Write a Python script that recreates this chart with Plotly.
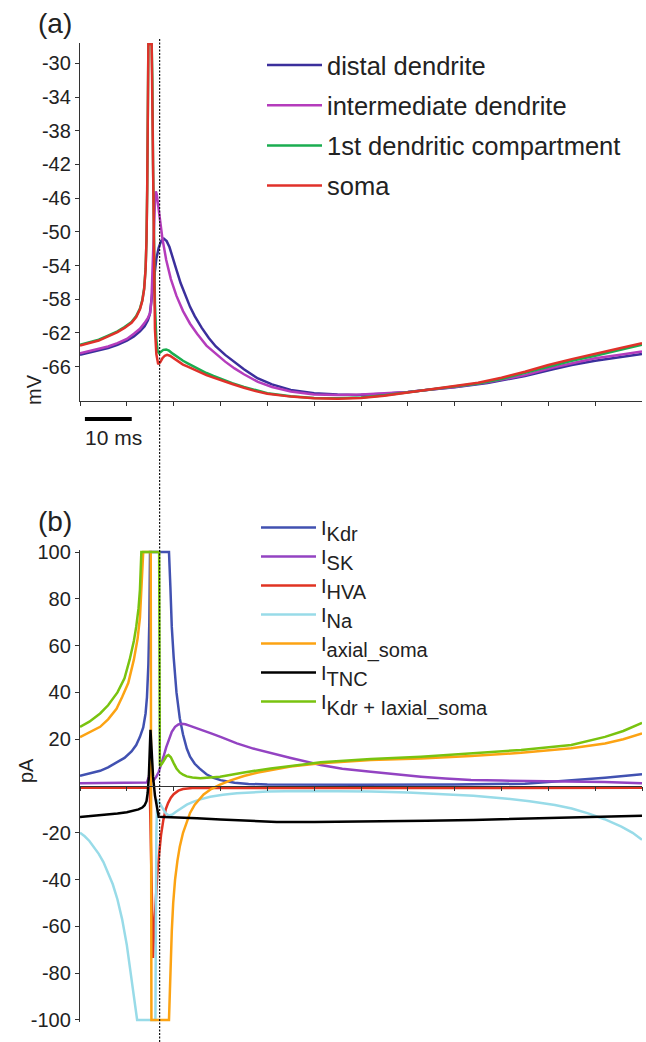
import plotly.graph_objects as go

# ---------------- Panel (a): membrane potential (mV) vs time (ms) ----------------
t_dist = [0, 2, 4, 6, 8, 10, 11.5, 12.8, 13.8, 14.5, 14.9, 15.2, 15.5, 15.9, 16.3, 16.8, 17.3, 17.9, 18.5, 19.1, 19.7, 20.6, 21.5, 22.5, 23.5, 24.5, 26, 27.5, 29, 31, 33, 35, 38, 41, 45, 50, 55, 59, 65, 70, 75, 80, 87, 95, 101, 105, 110, 115, 120]
v_dist = [-64.6, -64.35, -64.1, -63.8, -63.4, -62.9, -62.4, -61.8, -61.2, -60.5, -59.8, -58.3, -56.5, -54.6, -53.2, -51.9, -51.1, -50.8, -51.1, -51.8, -52.8, -54.5, -56.1, -57.6, -58.9, -60.0, -61.4, -62.6, -63.6, -64.6, -65.5, -66.3, -67.4, -68.1, -68.75, -69.15, -69.3, -69.35, -69.2, -69.0, -68.7, -68.45, -67.95, -67.1, -66.3, -65.8, -65.3, -64.9, -64.5]

t_int = [0, 2, 4, 6, 8, 10, 11.5, 12.8, 13.8, 14.5, 15.0, 15.25, 15.45, 15.65, 15.85, 16.05, 16.2, 16.4, 16.7, 17.0, 17.6, 18.4, 19.4, 20.6, 22, 23.5, 25, 27, 29, 31, 33, 35, 38, 41, 45, 50, 55, 60, 65, 70, 75, 80, 87, 95, 101, 105, 110, 115, 120]
v_int = [-64.4, -64.15, -63.9, -63.6, -63.2, -62.7, -62.1, -61.5, -60.8, -60.2, -59.6, -58.2, -55, -51, -47.8, -45.8, -45.2, -45.6, -46.9, -48.4, -50.8, -53.3, -55.6, -57.6, -59.4, -60.9, -62.1, -63.5, -64.5, -65.4, -66.2, -66.9, -67.8, -68.4, -68.95, -69.3, -69.35, -69.3, -69.15, -69.0, -68.7, -68.4, -67.85, -67.0, -66.1, -65.6, -65.0, -64.6, -64.2]

t_d1 = [0, 2, 4, 6, 8, 9.5, 11, 12, 12.8, 13.3, 13.7, 14.0, 14.2, 14.35, 14.5, 14.6, 15.3, 15.45, 15.6, 15.8, 16.0, 16.3, 16.6, 16.9, 17.3, 17.8, 18.4, 19.0, 19.8, 21, 22, 23, 24, 25.5, 27, 28.5, 30, 32.5, 35, 37.5, 40, 45, 50, 55, 60, 65, 70, 75, 80, 85, 90, 95, 100, 105, 110, 115, 120]
v_d1 = [-63.4, -63.1, -62.8, -62.3, -61.8, -61.3, -60.7, -60.0, -59.1, -58.1, -56.7, -54.4, -51, -45, -33, -27.7, -27.7, -32, -42, -52, -58.5, -62.8, -64.2, -64.4, -64.2, -64.0, -63.95, -64.1, -64.45, -64.95, -65.3, -65.6, -65.9, -66.35, -66.75, -67.1, -67.45, -67.95, -68.4, -68.8, -69.15, -69.5, -69.7, -69.75, -69.65, -69.4, -69.05, -68.75, -68.4, -68.0, -67.45, -66.75, -66.0, -65.3, -64.7, -64.05, -63.4]

t_soma = [0, 2, 4, 6, 8, 9.5, 11, 12, 12.8, 13.3, 13.7, 14.0, 14.2, 14.35, 14.5, 14.6, 15.3, 15.45, 15.6, 15.8, 16.0, 16.3, 16.7, 17.1, 17.6, 18.1, 18.6, 19.2, 20, 21, 22, 23, 24, 25.5, 27, 28.5, 30, 32.5, 35, 37.5, 40, 45, 50, 55, 60, 65, 70, 75, 80, 85, 90, 95, 100, 105, 110, 115, 120]
v_soma = [-63.5, -63.2, -62.9, -62.4, -61.9, -61.4, -60.8, -60.1, -59.2, -58.2, -56.8, -54.5, -51, -45, -33, -27.7, -27.7, -35, -46, -56, -61.5, -64.5, -65.7, -65.5, -65.0, -64.7, -64.6, -64.7, -65.0, -65.4, -65.75, -66.0, -66.25, -66.65, -67.0, -67.3, -67.6, -68.05, -68.5, -68.9, -69.2, -69.55, -69.75, -69.8, -69.7, -69.45, -69.05, -68.7, -68.3, -67.9, -67.3, -66.6, -65.8, -65.1, -64.5, -63.85, -63.2]

names_a = ["distal dendrite", "intermediate dendrite", "1st dendritic compartment", "soma"]
colors_a = ["#3b2f9c", "#b53cbc", "#1aad50", "#e0312a"]

# ---------------- Panel (b): currents (pA) vs time (ms) ----------------
t_kdr = [0, 2, 4.3, 6, 7.8, 9.5, 11, 12, 12.8, 13.5, 14.0, 14.3, 14.6, 14.8, 14.95, 19.0, 19.3, 19.6, 20.0, 20.6, 21.3, 22.0, 22.8, 23.5, 24.5, 25.5, 27, 28.5, 30, 33, 36, 40, 60, 80, 95, 101.4, 107, 112.1, 120]
v_kdr = [4.4, 5.3, 6.5, 8, 10, 12, 14.8, 17.5, 21, 25, 31, 38, 52, 70, 100, 100, 85, 68, 55, 40, 29, 22, 16, 12.5, 9.5, 7.5, 5, 3.5, 2.5, 1.4, 0.9, 0.6, 0.5, 0.6, 1.0, 1.9, 2.8, 3.5, 5]

t_sk = [0, 10, 14.3, 14.55, 14.75, 14.95, 15.3, 15.8, 16.3, 16.8, 17.3, 17.8, 18.4, 19.0, 19.6, 20.3, 21.0, 21.7, 22.5, 23.5, 24.5, 26.4, 28, 30, 33.5, 37, 40.7, 45, 51.4, 56, 62.1, 67, 72.8, 78, 83.5, 90, 97.8, 104.9, 112, 120]
v_sk = [1.2, 1.3, 1.5, 3, 4.4, 3, 2, 2.6, 4, 6, 8.8, 12.3, 16.5, 20.2, 23.2, 25.3, 26.3, 26.6, 26.4, 25.7, 25, 23.9, 22.5, 21, 18.2, 16, 14, 12, 9.0, 7.4, 6.1, 5, 4.0, 3.2, 2.6, 2.3, 2.1, 2.1, 1.7, 1.2]

t_hva = [0, 14.6, 14.9, 15.2, 15.6, 15.8, 16.1, 16.5, 16.9, 17.3, 17.8, 18.3, 18.8, 19.4, 20, 21, 22, 24, 120]
v_hva = [-0.8, -0.8, -1.5, -40, -73.5, -62, -50, -38, -29, -21, -14.5, -10, -7.3, -5, -3.5, -2, -1.3, -0.9, -0.8]

t_na = [0, 1, 2, 3, 4, 5, 6, 7, 8, 9, 10, 11, 11.7, 12.2, 16.1, 16.3, 16.5, 16.8, 17.2, 17.7, 18.3, 19.0, 19.7, 20.5, 21.5, 22.8, 24, 25.5, 27.8, 30.5, 33.5, 37, 40, 47.9, 55, 62.1, 70, 76.4, 84, 90.7, 96, 101.4, 105, 108.5, 112, 115.6, 118, 120]
v_na = [-20, -21.5, -23.5, -26, -29, -32.5, -37, -42, -48.5, -57, -68, -82, -93, -100, -100, -20, -6, -6.5, -8, -10, -11.7, -12.6, -12.2, -11, -9.6, -8.0, -6.9, -5.8, -4.6, -3.7, -3.1, -2.7, -2.4, -2.1, -2.2, -2.4, -2.8, -3.4, -4.2, -5.3, -6.5, -8.1, -9.6, -11.7, -14.2, -17.4, -20, -23]

t_ax = [0, 2, 4.3, 6, 7.8, 9, 10.3, 11.5, 12.3, 12.8, 13.2, 13.5, 15.1, 15.25, 19.0, 19.3, 19.6, 19.9, 20.3, 20.8, 21.3, 22.0, 22.7, 23.5, 24.5, 25.5, 26.4, 28, 29.9, 32, 35, 38, 40.7, 45, 51.4, 62.1, 72.8, 83.5, 94.2, 104.9, 112.1, 116, 120]
v_ax = [20.9, 22.8, 25.3, 28.5, 33, 38, 44, 54, 63, 72, 85, 100, 100, -100, -100, -78, -62, -50, -40, -32, -26, -20, -15.6, -11.5, -8, -5.5, -3.6, -1.3, 0.6, 2.3, 4.3, 5.8, 6.8, 8.3, 9.7, 11.1, 11.8, 12.8, 14.2, 16.1, 18.2, 20, 22.5]

t_tnc = [0, 4, 8, 10, 11.5, 12.5, 13.3, 13.8, 14.2, 14.45, 14.7, 14.9, 15.05, 15.3, 15.6, 16.0, 16.4, 16.8, 18, 20, 25, 30, 36, 42, 50, 62, 74, 84, 98, 110, 120]
v_tnc = [-13.2, -12.6, -11.8, -11.2, -10.6, -10.0, -9.2, -8.2, -6.5, -3, 4, 14, 24, 15, 4, -4, -9, -13.2, -13.3, -13.4, -13.8, -14.3, -15.0, -15.4, -15.4, -15.2, -14.9, -14.5, -13.8, -13.2, -12.7]

t_sum = [0, 2, 4.3, 6, 8, 9.5, 10.6, 11.5, 12.0, 12.5, 12.8, 13.0, 13.1, 16.9, 17.05, 17.5, 18.0, 18.5, 18.9, 19.4, 20.0, 20.6, 21.3, 22.0, 22.8, 24, 25.7, 27.5, 29.9, 35, 40.7, 51.4, 62.1, 72.8, 83.5, 94.2, 104.9, 112.1, 116, 120]
v_sum = [25.3, 27.5, 31, 34.5, 40, 46, 54, 62, 68, 76, 84, 92, 100, 100, 8.5, 9.5, 11.5, 12.8, 13.2, 12.3, 9.8, 7.5, 5.8, 4.8, 4.1, 3.6, 3.3, 3.5, 4.0, 5.8, 7.5, 10.1, 11.5, 12.5, 14, 15.4, 17.5, 21, 23.5, 27]

SUBF = "I<span style='baseline-shift:-6px'>%s</span>"
names_b = [SUBF % "Kdr", SUBF % "SK", SUBF % "HVA", SUBF % "Na",
           SUBF % "axial_soma", SUBF % "TNC", SUBF % "Kdr + Iaxial_soma"]
colors_b = ["#4151b1", "#9343c2", "#e03322", "#98dbe8", "#fca313", "#000000", "#79c30f"]

spike_time = 17.0
tick_a_y = [-66, -62, -58, -54, -50, -46, -42, -38, -34, -30]
tick_b_y = [-100, -80, -60, -40, -20, 20, 40, 60, 80, 100]
tick_x_a = list(range(0, 111, 10))
tick_x_b = list(range(0, 121, 10))

# ---------------- figure ----------------
W, H = 646, 1042
ML, MR, MT, MB = 80, 4, 40, 18
PH = H - MT - MB

def py(pix):  # pixel row -> paper y
    return (H - MB - pix) / PH

def px(pix):  # pixel col -> paper x
    return (pix - ML) / (W - ML - MR)

fig = go.Figure()

series_a = [(t_dist, v_dist), (t_int, v_int), (t_d1, v_d1), (t_soma, v_soma)]
for i, (tt, vv) in enumerate(series_a):
    fig.add_trace(go.Scatter(x=tt, y=vv, mode="lines", name=names_a[i],
                             line=dict(color=colors_a[i], width=2.5),
                             xaxis="x", yaxis="y", legend="legend",
                             legendgroup="a%d" % i, hoverinfo="skip"))

series_b = [(t_kdr, v_kdr), (t_sk, v_sk), (t_hva, v_hva), (t_na, v_na),
            (t_ax, v_ax), (t_tnc, v_tnc), (t_sum, v_sum)]
for i, (tt, vv) in enumerate(series_b):
    fig.add_trace(go.Scatter(x=tt, y=vv, mode="lines", name=names_b[i],
                             line=dict(color=colors_b[i], width=2.5),
                             xaxis="x2", yaxis="y2", legend="legend2",
                             legendgroup="b%d" % i, hoverinfo="skip"))

FONT = "Liberation Sans, Arial, Helvetica, sans-serif"
axcol = "#333333"
common_axis = dict(showgrid=False, zeroline=False, showline=True, linecolor=axcol,
                   linewidth=1.3, ticks="outside", ticklen=4, tickcolor=axcol,
                   tickwidth=1.3)

fig.update_layout(
    width=W, height=H,
    margin=dict(l=ML, r=MR, t=MT, b=MB),
    paper_bgcolor="white", plot_bgcolor="white",
    font=dict(family=FONT, color="#222222", size=20),
    xaxis=dict(domain=[0, 1], range=[0, 120], anchor="y", tickvals=tick_x_a,
               showticklabels=False, **common_axis),
    yaxis=dict(domain=[py(401), py(43)], range=[-70.07, -27.59], anchor="x",
               tickvals=tick_a_y, ticktext=[str(v) for v in tick_a_y],
               tickfont=dict(size=20), **common_axis),
    xaxis2=dict(domain=[0, 1], range=[0, 120], anchor="free", position=py(786),
                tickvals=tick_x_b, showticklabels=False, **common_axis),
    yaxis2=dict(domain=[py(1022.3), py(549.7)], range=[-101, 101], anchor="x2",
                tickvals=tick_b_y, ticktext=[str(v) for v in tick_b_y],
                tickfont=dict(size=20), **common_axis),
    legend=dict(x=px(262), y=py(42), xanchor="left", yanchor="top",
                font=dict(size=25.5, family=FONT, color="#222222"),
                bgcolor="rgba(0,0,0,0)", tracegroupgap=4, itemwidth=55),
    legend2=dict(x=px(256), y=py(508), xanchor="left", yanchor="top",
                 font=dict(size=20, family=FONT, color="#222222"),
                 bgcolor="rgba(0,0,0,0)", tracegroupgap=0, itemwidth=55),
    showlegend=True,
)

# dashed vertical line at the spike time, running through both panels
fig.add_shape(type="line", xref="x", yref="paper", x0=spike_time, x1=spike_time,
              y0=py(1042), y1=py(38), line=dict(color="#111111", width=1.2, dash="2px,1.5px"),
              layer="above")

# 10 ms scale bar
fig.add_shape(type="line", xref="x", yref="paper", x0=1.05, x1=11.05, y0=py(419), y1=py(419),
              line=dict(color="black", width=4))
fig.add_annotation(x=px(83), y=py(438), xref="paper", yref="paper", text="10 ms",
                   showarrow=False, xanchor="left", yanchor="middle",
                   font=dict(size=21, family=FONT, color="#222222"))

# panel letters and axis titles
fig.add_annotation(x=px(55), y=py(24), xref="paper", yref="paper", text="(a)",
                   showarrow=False, xanchor="center", yanchor="middle",
                   font=dict(size=28, family=FONT, color="#222222"))
fig.add_annotation(x=px(55), y=py(521), xref="paper", yref="paper", text="(b)",
                   showarrow=False, xanchor="center", yanchor="middle",
                   font=dict(size=28, family=FONT, color="#222222"))
fig.add_annotation(x=px(34), y=py(390), xref="paper", yref="paper", text="mV",
                   showarrow=False, textangle=-90, xanchor="center", yanchor="middle",
                   font=dict(size=20, family=FONT, color="#222222"))
fig.add_annotation(x=px(26), y=py(771), xref="paper", yref="paper", text="pA",
                   showarrow=False, textangle=-90, xanchor="center", yanchor="middle",
                   font=dict(size=20, family=FONT, color="#222222"))

fig.write_html("out.html")
